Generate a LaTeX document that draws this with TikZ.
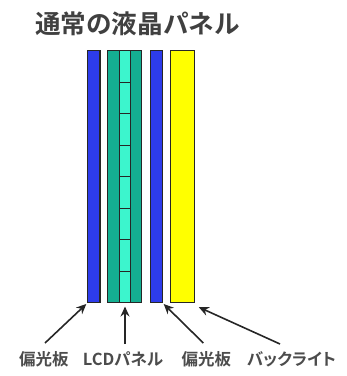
\documentclass[tikz,border=0pt]{standalone}
\usepackage{fontspec}
\newfontfamily\jp[BoldFont={* Bold}]{Noto Sans CJK JP}
\newfontfamily\jpp[RawFeature=+palt, BoldFont={* Bold}]{Noto Sans CJK JP}
\usetikzlibrary{arrows.meta}
\definecolor{polblue}{RGB}{45,60,235}
\definecolor{lcdout}{RGB}{20,175,145}
\definecolor{lcdin}{RGB}{60,245,205}
\definecolor{bl}{RGB}{255,255,0}
\tikzset{
  bar/.style={draw=black!85, line width=1pt, inner sep=0pt, minimum height=252pt},
  lab/.style={font=\jpp\bfseries\fontsize{16.5}{18}\selectfont, text=black!70, inner sep=0pt},
  arr/.style={draw=black!85, line width=1.6pt, -{Stealth[length=10pt,width=9pt]}}
}
\begin{document}
\begin{tikzpicture}[x=1pt,y=-1pt]
\useasboundingbox (0,0) rectangle (347,376);
\node[font=\jp\bfseries\fontsize{25.6}{28}\selectfont, text=black!75, inner sep=0pt] (title) at (137.5,24) {通常の液晶パネル};
% bars
\node[bar, fill=polblue, minimum width=12.7pt] (pol1) at (93.65,176.7) {};
\node[bar, fill=lcdout, minimum width=34pt] (lcd) at (124.7,176.7) {};
\fill[lcdin] (119.3,50.7) rectangle (130.7,302.7);
\draw[black!85, line width=1pt] (119.3,50.7) -- (119.3,302.7) (130.7,50.7) -- (130.7,302.7);
\foreach \k in {1,...,7} {
  \draw[black!85, line width=1pt] (119.3,50.7+31.5*\k) -- (130.7,50.7+31.5*\k);
}
\node[bar, fill=none, minimum width=34pt] at (124.7,176.7) {};
\node[bar, fill=polblue, minimum width=12.7pt] (pol2) at (156.35,176.7) {};
\node[bar, fill=bl, minimum width=23.3pt] (back) at (182.35,176.7) {};
% labels
\node[lab] (l1) at (44,359) {偏光板};
\node[lab] (l2) at (123,359) {LCDパネル};
\node[lab] (l3) at (206.5,359) {偏光板};
\node[lab] (l4) at (291.5,359) {バックライト};
% arrows
\draw[arr] (45,343) -- ([shift={(-0.5,0.8)}]pol1.south west);
\draw[arr] (125,344) -- ([shift={(0.3,3.3)}]lcd.south);
\draw[arr] (203.3,343) -- ([shift={(0.5,0.8)}]pol2.south east);
\draw[arr] (280,344) -- ([shift={(4.3,4)}]back.south east);
\end{tikzpicture}
\end{document}
